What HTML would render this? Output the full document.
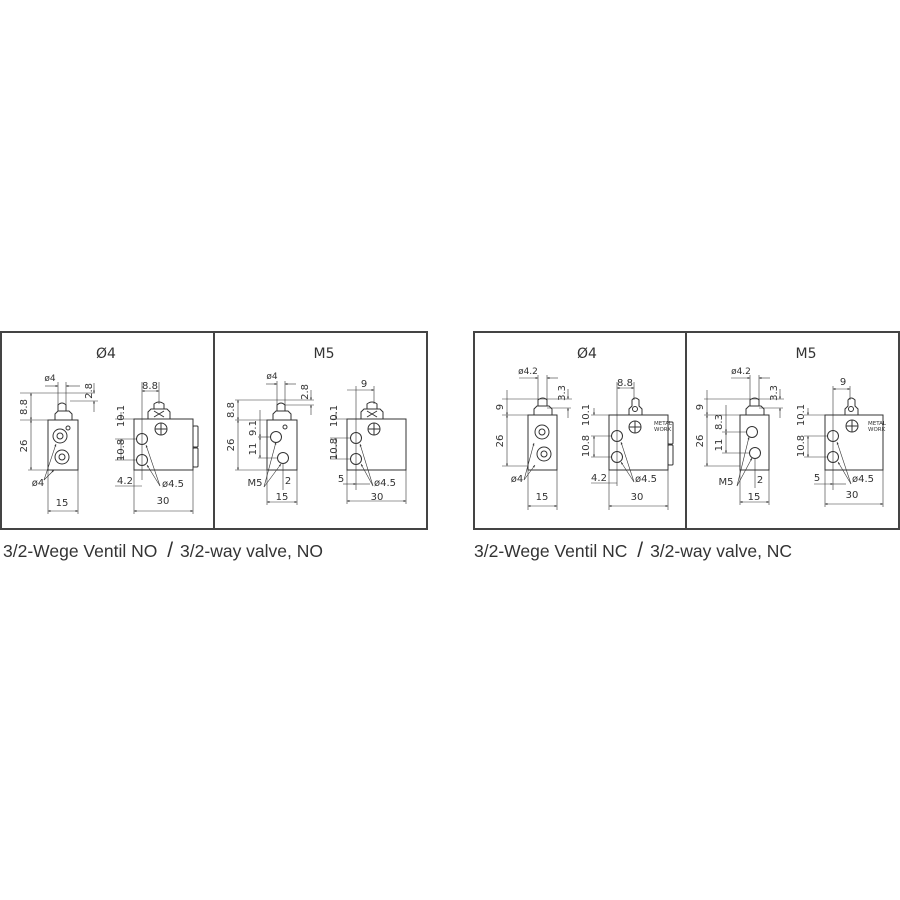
<!DOCTYPE html>
<html><head><meta charset="utf-8"><style>
html,body{margin:0;padding:0;background:#fff;width:900px;height:900px;overflow:hidden}
svg{display:block}
text{font-family:"DejaVu Sans","Liberation Sans",sans-serif;fill:#333}
</style></head><body>
<svg width="900" height="900" viewBox="0 0 900 900" xmlns="http://www.w3.org/2000/svg">
<defs>
<marker id="a" viewBox="0 0 10 10" refX="10" refY="5" markerWidth="5" markerHeight="4" orient="auto-start-reverse"><path d="M0,1 L10,5 L0,9z" fill="#333"/></marker>
</defs>
<g fill="none" stroke="#444">
<rect x="1" y="332" width="426" height="197" stroke-width="2"/>
<line x1="214" y1="332" x2="214" y2="529" stroke-width="2"/>
<rect x="474" y="332" width="425" height="197" stroke-width="2"/>
<line x1="686" y1="332" x2="686" y2="529" stroke-width="2"/>
</g>

<g id="pA">
<text x="106" y="358" font-size="14" text-anchor="middle">Ø4</text>
<g fill="none" stroke="#333" stroke-width="1">
<rect x="48" y="420" width="30" height="50"/>
<path d="M55,420 V414 L58,411 H69 L72,414 V420"/>
<path d="M58,411 V405 Q62,401 66,405 V411"/>
<circle cx="60" cy="436" r="7"/><circle cx="60" cy="436" r="3"/>
<circle cx="62" cy="457" r="7"/><circle cx="62" cy="457" r="3"/>
<circle cx="68" cy="428" r="2"/>
<g stroke-width="0.6">
<line x1="20" y1="393" x2="95" y2="393"/><line x1="20" y1="420" x2="48" y2="420"/><line x1="28" y1="470" x2="48" y2="470"/>
<line x1="31" y1="393" x2="31" y2="420" marker-start="url(#a)" marker-end="url(#a)"/>
<line x1="31" y1="420" x2="31" y2="470" marker-start="url(#a)" marker-end="url(#a)"/>
<line x1="58" y1="382" x2="58" y2="405"/><line x1="66" y1="382" x2="66" y2="405"/>
<line x1="45" y1="386" x2="58" y2="386" marker-end="url(#a)"/><line x1="80" y1="386" x2="66" y2="386" marker-end="url(#a)"/>
<line x1="70" y1="401" x2="98" y2="401"/>
<line x1="94" y1="383" x2="94" y2="393" marker-end="url(#a)"/><line x1="94" y1="412" x2="94" y2="401" marker-end="url(#a)"/>
<line x1="48" y1="470" x2="48" y2="514"/><line x1="78" y1="470" x2="78" y2="514"/>
<line x1="48" y1="511" x2="78" y2="511" marker-start="url(#a)" marker-end="url(#a)"/>
<line x1="44" y1="480" x2="56" y2="444" marker-end="url(#a)"/><line x1="44" y1="480" x2="54" y2="470" marker-end="url(#a)"/>
</g>
<rect x="134" y="419" width="59" height="51"/>
<path d="M148,419 V412 L151,409 H167 L170,412 V419"/>
<path d="M154,409 V404 Q159,400 164,404 V409"/>
<path d="M154,411 L164,417 M164,411 L154,417"/>
<circle cx="142" cy="439" r="5.5"/><circle cx="142" cy="460" r="5.5"/>
<circle cx="161" cy="429" r="6"/><line x1="161" y1="423" x2="161" y2="435"/><line x1="155" y1="429" x2="167" y2="429"/>
<rect x="193" y="426" width="5" height="21" rx="1"/><rect x="193" y="448" width="5" height="19" rx="1"/>
<g stroke-width="0.6">
<line x1="142" y1="382" x2="142" y2="480"/><line x1="159" y1="382" x2="159" y2="404"/>
<line x1="142" y1="391" x2="159" y2="391" marker-start="url(#a)" marker-end="url(#a)"/>
<line x1="115" y1="419" x2="134" y2="419"/><line x1="115" y1="439" x2="137" y2="439"/><line x1="115" y1="460" x2="137" y2="460"/>
<line x1="121" y1="412" x2="121" y2="419" marker-end="url(#a)"/>
<line x1="121" y1="439" x2="121" y2="460" marker-start="url(#a)" marker-end="url(#a)"/>
<line x1="134" y1="470" x2="134" y2="514"/><line x1="193" y1="470" x2="193" y2="514"/>
<line x1="134" y1="511" x2="193" y2="511" marker-start="url(#a)" marker-end="url(#a)"/>
<line x1="115" y1="486" x2="142" y2="486"/>
<line x1="160" y1="486" x2="146" y2="445" marker-end="url(#a)"/><line x1="160" y1="486" x2="147" y2="465" marker-end="url(#a)"/>
</g>
</g>
<text x="50" y="381" font-size="9" text-anchor="middle">ø4</text>
<text x="92" y="383" font-size="10" transform="rotate(-90 92 383)" text-anchor="end">2.8</text>
<text x="27" y="407" font-size="10" transform="rotate(-90 27 407)" text-anchor="middle">8.8</text>
<text x="27" y="446" font-size="10" transform="rotate(-90 27 446)" text-anchor="middle">26</text>
<text x="38" y="486" font-size="10" text-anchor="middle">ø4</text>
<text x="62" y="506" font-size="10" text-anchor="middle">15</text>
<text x="150" y="389" font-size="10" text-anchor="middle">8.8</text>
<text x="124" y="416" font-size="10" transform="rotate(-90 124 416)" text-anchor="middle">10.1</text>
<text x="124" y="450" font-size="10" transform="rotate(-90 124 450)" text-anchor="middle">10.8</text>
<text x="125" y="484" font-size="10" text-anchor="middle">4.2</text>
<text x="173" y="487" font-size="10" text-anchor="middle">ø4.5</text>
<text x="163" y="504" font-size="10" text-anchor="middle">30</text>
</g>

<g id="pB">
<text x="324" y="358" font-size="14" text-anchor="middle">M5</text>
<g fill="none" stroke="#333" stroke-width="1">
<rect x="267" y="420" width="30" height="50"/>
<path d="M273,420 V414 L276,411 H288 L291,414 V420"/>
<path d="M277,411 V405 Q281,401 285,405 V411"/>
<circle cx="276" cy="437" r="5.5"/><circle cx="283" cy="458" r="5.5"/><circle cx="285" cy="427" r="2"/>
<g stroke-width="0.6">
<line x1="235" y1="400" x2="314" y2="400"/><line x1="235" y1="420" x2="267" y2="420"/><line x1="235" y1="470" x2="267" y2="470"/>
<line x1="238" y1="400" x2="238" y2="420" marker-start="url(#a)" marker-end="url(#a)"/>
<line x1="238" y1="420" x2="238" y2="470" marker-start="url(#a)" marker-end="url(#a)"/>
<line x1="258" y1="437" x2="270" y2="437"/><line x1="258" y1="458" x2="277" y2="458"/>
<line x1="260" y1="410" x2="260" y2="437" marker-end="url(#a)"/>
<line x1="260" y1="437" x2="260" y2="458" marker-start="url(#a)" marker-end="url(#a)"/>
<line x1="277" y1="381" x2="277" y2="405"/><line x1="285" y1="381" x2="285" y2="405"/>
<line x1="266" y1="384" x2="277" y2="384" marker-end="url(#a)"/><line x1="296" y1="384" x2="285" y2="384" marker-end="url(#a)"/>
<line x1="285" y1="405" x2="314" y2="405"/>
<line x1="311" y1="390" x2="311" y2="400" marker-end="url(#a)"/><line x1="311" y1="415" x2="311" y2="405" marker-end="url(#a)"/>
<line x1="267" y1="470" x2="267" y2="505"/><line x1="297" y1="470" x2="297" y2="505"/>
<line x1="267" y1="502" x2="297" y2="502" marker-start="url(#a)" marker-end="url(#a)"/>
<line x1="283" y1="463" x2="283" y2="490"/>
<line x1="264" y1="487" x2="276" y2="442" marker-end="url(#a)"/><line x1="264" y1="487" x2="281" y2="464" marker-end="url(#a)"/>
</g>
<rect x="347" y="419" width="59" height="51"/>
<path d="M361,419 V412 L364,409 H380 L383,412 V419"/>
<path d="M367,409 V404 Q372,400 377,404 V409"/>
<path d="M367,411 L377,417 M377,411 L367,417"/>
<circle cx="356" cy="438" r="5.5"/><circle cx="356" cy="459" r="5.5"/>
<circle cx="374" cy="429" r="6"/><line x1="374" y1="423" x2="374" y2="435"/><line x1="368" y1="429" x2="380" y2="429"/>
<g stroke-width="0.6">
<line x1="356" y1="386" x2="356" y2="490"/><line x1="374" y1="386" x2="374" y2="404"/>
<line x1="347" y1="390" x2="374" y2="390" marker-end="url(#a)"/>
<line x1="330" y1="419" x2="347" y2="419"/><line x1="330" y1="438" x2="351" y2="438"/><line x1="330" y1="459" x2="351" y2="459"/>
<line x1="336" y1="412" x2="336" y2="419" marker-end="url(#a)"/>
<line x1="336" y1="438" x2="336" y2="459" marker-start="url(#a)" marker-end="url(#a)"/>
<line x1="347" y1="470" x2="347" y2="504"/><line x1="406" y1="470" x2="406" y2="504"/>
<line x1="347" y1="501" x2="406" y2="501" marker-start="url(#a)" marker-end="url(#a)"/>
<line x1="343" y1="484" x2="356" y2="484" marker-end="url(#a)"/><line x1="370" y1="484" x2="356" y2="484"/>
<line x1="373" y1="486" x2="360" y2="444" marker-end="url(#a)"/><line x1="373" y1="486" x2="361" y2="464" marker-end="url(#a)"/>
</g>
</g>
<text x="272" y="379" font-size="9" text-anchor="middle">ø4</text>
<text x="308" y="384" font-size="10" transform="rotate(-90 308 384)" text-anchor="end">2.8</text>
<text x="234" y="410" font-size="10" transform="rotate(-90 234 410)" text-anchor="middle">8.8</text>
<text x="234" y="445" font-size="10" transform="rotate(-90 234 445)" text-anchor="middle">26</text>
<text x="256" y="428" font-size="10" transform="rotate(-90 256 428)" text-anchor="middle">9.1</text>
<text x="256" y="449" font-size="10" transform="rotate(-90 256 449)" text-anchor="middle">11</text>
<text x="255" y="486" font-size="10" text-anchor="middle">M5</text>
<text x="288" y="484" font-size="10" text-anchor="middle">2</text>
<text x="282" y="500" font-size="10" text-anchor="middle">15</text>
<text x="364" y="387" font-size="10" text-anchor="middle">9</text>
<text x="337" y="416" font-size="10" transform="rotate(-90 337 416)" text-anchor="middle">10.1</text>
<text x="337" y="449" font-size="10" transform="rotate(-90 337 449)" text-anchor="middle">10.8</text>
<text x="341" y="482" font-size="10" text-anchor="middle">5</text>
<text x="385" y="486" font-size="10" text-anchor="middle">ø4.5</text>
<text x="377" y="500" font-size="10" text-anchor="middle">30</text>
</g>

<g transform="translate(474,0)">
<text x="113" y="358" font-size="14" text-anchor="middle">Ø4</text>
<g fill="none" stroke="#333" stroke-width="1">
<rect x="54" y="415" width="29" height="55"/>
<path d="M60,415 V409 L63,406 H75 L78,409 V415"/>
<path d="M64,406 V400 Q69,396 73,400 V406"/>
<circle cx="68" cy="432" r="7"/><circle cx="68" cy="432" r="3"/>
<circle cx="70" cy="454" r="7"/><circle cx="70" cy="454" r="3"/>
<g stroke-width="0.6">
<line x1="28" y1="399" x2="98" y2="399"/><line x1="28" y1="415" x2="54" y2="415"/><line x1="28" y1="466" x2="54" y2="466"/>
<line x1="33" y1="390" x2="33" y2="415" marker-end="url(#a)"/>
<line x1="33" y1="415" x2="33" y2="466" marker-start="url(#a)" marker-end="url(#a)"/>
<line x1="64" y1="375" x2="64" y2="400"/><line x1="73" y1="375" x2="73" y2="400"/>
<line x1="45" y1="378" x2="64" y2="378" marker-end="url(#a)"/><line x1="84" y1="378" x2="73" y2="378" marker-end="url(#a)"/>
<line x1="73" y1="408" x2="97" y2="408"/>
<line x1="94" y1="389" x2="94" y2="399" marker-end="url(#a)"/><line x1="94" y1="418" x2="94" y2="408" marker-end="url(#a)"/>
<line x1="54" y1="470" x2="54" y2="510"/><line x1="83" y1="470" x2="83" y2="510"/>
<line x1="54" y1="506" x2="83" y2="506" marker-start="url(#a)" marker-end="url(#a)"/>
<line x1="50" y1="480" x2="60" y2="443" marker-end="url(#a)"/><line x1="50" y1="480" x2="61" y2="465" marker-end="url(#a)"/>
</g>
<rect x="135" y="415" width="59" height="55"/>
<path d="M155,415 V409 L158,406 V400 Q161,396 165,400 V406 L168,409 V415"/>
<circle cx="161" cy="409" r="2.5"/>
<circle cx="143" cy="436" r="5.5"/><circle cx="143" cy="457" r="5.5"/>
<circle cx="161" cy="427" r="6"/><line x1="161" y1="421" x2="161" y2="433"/><line x1="155" y1="427" x2="167" y2="427"/>
<rect x="194" y="422" width="5" height="22" rx="1"/><rect x="194" y="445" width="5" height="20" rx="1"/>
<g stroke-width="0.6">
<line x1="143" y1="382" x2="143" y2="486"/><line x1="160" y1="382" x2="160" y2="400"/>
<line x1="143" y1="388" x2="160" y2="388" marker-start="url(#a)" marker-end="url(#a)"/>
<line x1="117" y1="415" x2="135" y2="415"/><line x1="117" y1="436" x2="138" y2="436"/><line x1="117" y1="457" x2="138" y2="457"/>
<line x1="120" y1="408" x2="120" y2="415" marker-end="url(#a)"/>
<line x1="120" y1="436" x2="120" y2="457" marker-start="url(#a)" marker-end="url(#a)"/>
<line x1="135" y1="470" x2="135" y2="510"/><line x1="194" y1="470" x2="194" y2="510"/>
<line x1="135" y1="506" x2="194" y2="506" marker-start="url(#a)" marker-end="url(#a)"/>
<line x1="117" y1="483" x2="143" y2="483"/>
<line x1="160" y1="482" x2="147" y2="442" marker-end="url(#a)"/><line x1="160" y1="482" x2="147" y2="462" marker-end="url(#a)"/>
</g>
</g>
<text x="180" y="425" font-size="5.5">METAL</text><text x="180" y="431" font-size="5.5">WORK</text>
<text x="54" y="374" font-size="9" text-anchor="middle">ø4.2</text>
<text x="91" y="385" font-size="10" transform="rotate(-90 91 385)" text-anchor="end">3.3</text>
<text x="29" y="407" font-size="10" transform="rotate(-90 29 407)" text-anchor="middle">9</text>
<text x="29" y="441" font-size="10" transform="rotate(-90 29 441)" text-anchor="middle">26</text>
<text x="43" y="482" font-size="10" text-anchor="middle">ø4</text>
<text x="68" y="500" font-size="10" text-anchor="middle">15</text>
<text x="151" y="386" font-size="10" text-anchor="middle">8.8</text>
<text x="115" y="415" font-size="10" transform="rotate(-90 115 415)" text-anchor="middle">10.1</text>
<text x="115" y="446" font-size="10" transform="rotate(-90 115 446)" text-anchor="middle">10.8</text>
<text x="125" y="481" font-size="10" text-anchor="middle">4.2</text>
<text x="172" y="482" font-size="10" text-anchor="middle">ø4.5</text>
<text x="163" y="500" font-size="10" text-anchor="middle">30</text>
</g>

<g transform="translate(686,0)">
<text x="120" y="358" font-size="14" text-anchor="middle">M5</text>
<g fill="none" stroke="#333" stroke-width="1">
<rect x="54" y="415" width="29" height="55"/>
<path d="M60,415 V409 L63,406 H75 L78,409 V415"/>
<path d="M64,406 V400 Q69,396 73,400 V406"/>
<circle cx="66" cy="432" r="5.5"/><circle cx="69" cy="453" r="5.5"/>
<g stroke-width="0.6">
<line x1="18" y1="399" x2="98" y2="399"/><line x1="18" y1="415" x2="54" y2="415"/><line x1="18" y1="466" x2="54" y2="466"/>
<line x1="21" y1="390" x2="21" y2="415" marker-end="url(#a)"/>
<line x1="21" y1="415" x2="21" y2="466" marker-start="url(#a)" marker-end="url(#a)"/>
<line x1="36" y1="432" x2="60" y2="432"/><line x1="36" y1="453" x2="63" y2="453"/>
<line x1="40" y1="405" x2="40" y2="432" marker-end="url(#a)"/>
<line x1="40" y1="432" x2="40" y2="453" marker-start="url(#a)" marker-end="url(#a)"/>
<line x1="64" y1="375" x2="64" y2="400"/><line x1="73" y1="375" x2="73" y2="400"/>
<line x1="45" y1="378" x2="64" y2="378" marker-end="url(#a)"/><line x1="84" y1="378" x2="73" y2="378" marker-end="url(#a)"/>
<line x1="73" y1="408" x2="97" y2="408"/>
<line x1="94" y1="389" x2="94" y2="399" marker-end="url(#a)"/><line x1="94" y1="418" x2="94" y2="408" marker-end="url(#a)"/>
<line x1="54" y1="470" x2="54" y2="505"/><line x1="83" y1="470" x2="83" y2="505"/>
<line x1="54" y1="502" x2="83" y2="502" marker-start="url(#a)" marker-end="url(#a)"/>
<line x1="69" y1="458" x2="69" y2="488"/>
<line x1="51" y1="486" x2="63" y2="437" marker-end="url(#a)"/><line x1="51" y1="486" x2="66" y2="458" marker-end="url(#a)"/>
</g>
<rect x="139" y="415" width="58" height="55"/>
<path d="M159,415 V409 L162,406 V400 Q165,396 169,400 V406 L172,409 V415"/>
<circle cx="165" cy="409" r="2.5"/>
<circle cx="147" cy="436" r="5.5"/><circle cx="147" cy="457" r="5.5"/>
<circle cx="166" cy="426" r="6"/><line x1="166" y1="420" x2="166" y2="432"/><line x1="160" y1="426" x2="172" y2="426"/>
<g stroke-width="0.6">
<line x1="147" y1="386" x2="147" y2="490"/><line x1="164" y1="386" x2="164" y2="400"/>
<line x1="147" y1="389" x2="164" y2="389" marker-start="url(#a)" marker-end="url(#a)"/>
<line x1="118" y1="415" x2="139" y2="415"/><line x1="118" y1="436" x2="142" y2="436"/><line x1="118" y1="457" x2="142" y2="457"/>
<line x1="122" y1="408" x2="122" y2="415" marker-end="url(#a)"/>
<line x1="122" y1="436" x2="122" y2="457" marker-start="url(#a)" marker-end="url(#a)"/>
<line x1="139" y1="470" x2="139" y2="507"/><line x1="197" y1="470" x2="197" y2="507"/>
<line x1="139" y1="504" x2="197" y2="504" marker-start="url(#a)" marker-end="url(#a)"/>
<line x1="128" y1="484" x2="147" y2="484" marker-end="url(#a)"/><line x1="160" y1="484" x2="147" y2="484"/>
<line x1="165" y1="484" x2="151" y2="442" marker-end="url(#a)"/><line x1="165" y1="484" x2="152" y2="462" marker-end="url(#a)"/>
</g>
</g>
<text x="182" y="425" font-size="5.5">METAL</text><text x="182" y="431" font-size="5.5">WORK</text>
<text x="55" y="374" font-size="9" text-anchor="middle">ø4.2</text>
<text x="91" y="385" font-size="10" transform="rotate(-90 91 385)" text-anchor="end">3.3</text>
<text x="17" y="407" font-size="10" transform="rotate(-90 17 407)" text-anchor="middle">9</text>
<text x="17" y="441" font-size="10" transform="rotate(-90 17 441)" text-anchor="middle">26</text>
<text x="36" y="422" font-size="10" transform="rotate(-90 36 422)" text-anchor="middle">8.3</text>
<text x="36" y="445" font-size="10" transform="rotate(-90 36 445)" text-anchor="middle">11</text>
<text x="40" y="485" font-size="10" text-anchor="middle">M5</text>
<text x="74" y="483" font-size="10" text-anchor="middle">2</text>
<text x="68" y="500" font-size="10" text-anchor="middle">15</text>
<text x="157" y="385" font-size="10" text-anchor="middle">9</text>
<text x="118" y="415" font-size="10" transform="rotate(-90 118 415)" text-anchor="middle">10.1</text>
<text x="118" y="446" font-size="10" transform="rotate(-90 118 446)" text-anchor="middle">10.8</text>
<text x="131" y="481" font-size="10" text-anchor="middle">5</text>
<text x="177" y="482" font-size="10" text-anchor="middle">ø4.5</text>
<text x="166" y="498" font-size="10" text-anchor="middle">30</text>
</g>

<text x="3" y="557" font-size="17.5" style="font-family:'Liberation Sans',sans-serif">3/2-Wege Ventil NO <tspan font-size="21" dx="5">/</tspan><tspan dx="7">3/2-way valve, NO</tspan></text>
<text x="474" y="557" font-size="17.5" style="font-family:'Liberation Sans',sans-serif">3/2-Wege Ventil NC <tspan font-size="21" dx="5">/</tspan><tspan dx="7">3/2-way valve, NC</tspan></text>
</svg>
</body></html>
